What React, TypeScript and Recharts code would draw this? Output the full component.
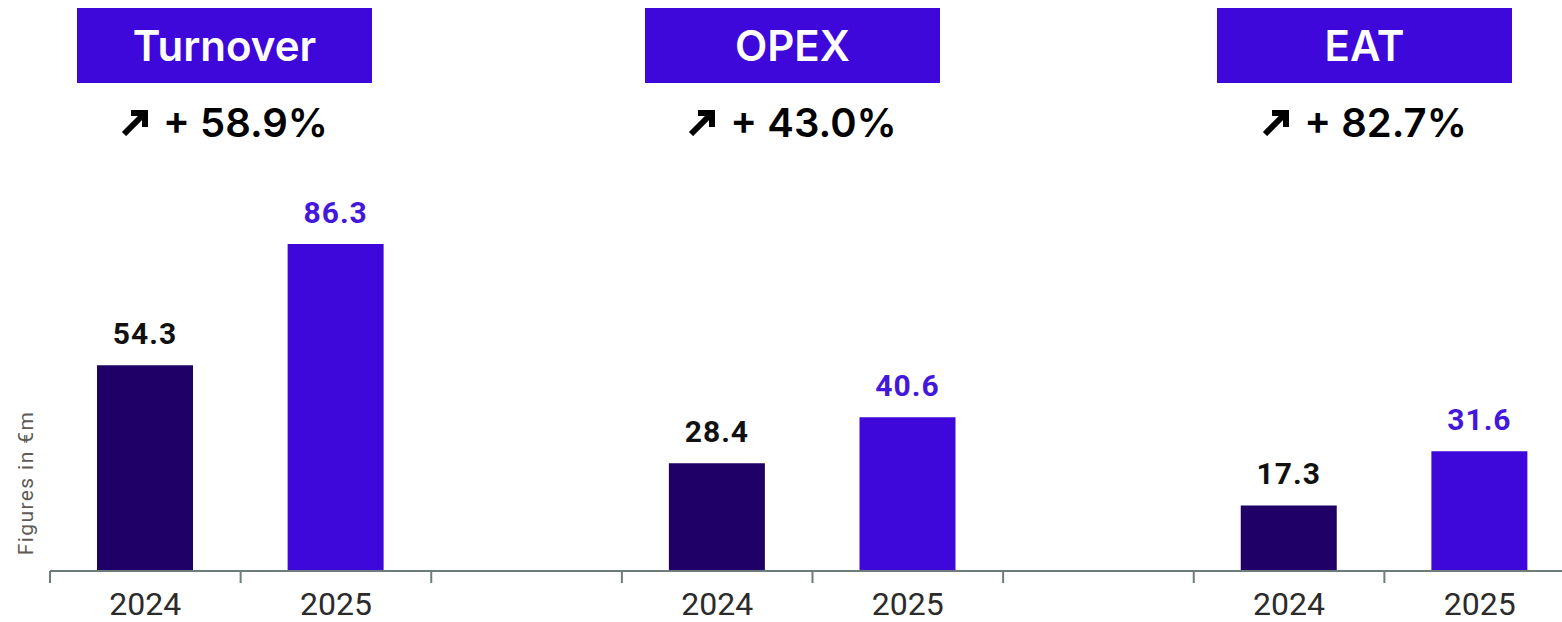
import { BarChart, Bar, XAxis, YAxis, LabelList } from 'recharts';

const metrics = ['Turnover', 'OPEX', 'EAT'];
const years = ['2024', '2025'];
const values2024 = [54.3, 28.4, 17.3];
const values2025 = [86.3, 40.6, 31.6];

const DARK = '#1e0066';
const PURPLE = '#3d08d9';
const AXIS = '#707b7b';

type Row = { key: string; year: string; v2024: number | null; v2025: number | null };

// 2024, 2025, then an empty spacer slot between metric groups
const rows: Row[] = [];
metrics.forEach((m, i) => {
  rows.push({ key: `${m}-${years[0]}`, year: years[0], v2024: values2024[i], v2025: null });
  rows.push({ key: `${m}-${years[1]}`, year: years[1], v2024: null, v2025: values2025[i] });
  if (i < metrics.length - 1) rows.push({ key: `gap-${i}`, year: '', v2024: null, v2025: null });
});

const changes = metrics.map((_, i) => ((values2025[i] / values2024[i] - 1) * 100).toFixed(1));

// header box centres (px)
const headerCenters = [224.5, 792.5, 1364.5];

function YearTick(props: any) {
  const { x, y, payload } = props;
  const half = payload?.offset ?? 95.3;
  const row = rows[payload.index];
  return (
    <g>
      <line x1={x - half} x2={x - half} y1={y - 8} y2={y + 4} stroke={AXIS} strokeWidth={2} />
      <text
        x={x}
        y={y + 36}
        textAnchor="middle"
        fill="#2b2b2b"
        fontSize={32}
        fontFamily="Roboto, sans-serif"
      >
        {row ? row.year : ''}
      </text>
    </g>
  );
}

const makeLabel = (color: string) =>
  function ValueLabel(props: any) {
    const { x, y, width, value } = props;
    if (value == null) return null;
    return (
      <text
        x={x + width / 2}
        y={y - 21}
        textAnchor="middle"
        fill={color}
        fontSize={30}
        fontWeight={700}
        letterSpacing={1}
        fontFamily="Roboto, sans-serif"
      >
        {Number(value).toFixed(1)}
      </text>
    );
  };

const Label2024 = makeLabel('#111');
const Label2025 = makeLabel('#4317dc');

function UnitLabel(props: any) {
  const { viewBox } = props;
  const cx = viewBox.x + 27;
  const cy = viewBox.y + viewBox.height - 88;
  return (
    <text
      x={cx}
      y={cy}
      transform={`rotate(-90 ${cx} ${cy})`}
      textAnchor="middle"
      dominantBaseline="middle"
      fill="#5e5a56"
      fontSize={21}
      letterSpacing={1.4}
      fontFamily="Roboto, sans-serif"
    >
      Figures in €m
    </text>
  );
}

function Arrow() {
  return (
    <svg width={28} height={28} viewBox="0 0 28 28" style={{ marginRight: 14 }}>
      <path d="M3 26 L23 6" stroke="#000" strokeWidth={6} fill="none" />
      <path d="M10 5 H24 V19" stroke="#000" strokeWidth={6} fill="none" strokeLinejoin="miter" />
    </svg>
  );
}

export default function App() {
  return (
    <div
      style={{
        position: 'absolute',
        left: 0,
        top: 0,
        width: 1562,
        height: 622,
        overflow: 'hidden',
        background: '#fff',
        fontFamily: 'Inter, Roboto, sans-serif',
      }}
    >
      {metrics.map((m, i) => (
        <div key={m}>
          <div
            style={{
              position: 'absolute',
              left: headerCenters[i] - 147.5,
              top: 8,
              width: 295,
              height: 75,
              background: PURPLE,
              color: '#fff',
              fontSize: 42,
              fontWeight: 600,
              display: 'flex',
              alignItems: 'center',
              justifyContent: 'center',
            }}
          >
            {m}
          </div>
          <div
            style={{
              position: 'absolute',
              left: headerCenters[i] - 150,
              top: 96,
              width: 300,
              height: 52,
              display: 'flex',
              alignItems: 'center',
              justifyContent: 'center',
              fontSize: 40,
              fontWeight: 600,
              color: '#000',
            }}
          >
            <Arrow />
            <span>+ {changes[i]}%</span>
          </div>
        </div>
      ))}
      <div style={{ position: 'absolute', left: 0, top: 0 }}>
        <BarChart
          width={1580}
          height={622}
          data={rows}
          margin={{ top: 192, right: 5, left: 0, bottom: 0 }}
        >
          <YAxis
            width={50}
            domain={[0, 100]}
            tick={false}
            axisLine={false}
            tickLine={false}
            label={<UnitLabel />}
          />
          <XAxis
            dataKey="key"
            height={51}
            interval={0}
            axisLine={{ stroke: AXIS, strokeWidth: 2 }}
            tickLine={false}
            tick={<YearTick />}
          />
          <Bar dataKey="v2024" stackId="y" fill={DARK} barSize={96} isAnimationActive={false}>
            <LabelList dataKey="v2024" content={<Label2024 />} />
          </Bar>
          <Bar dataKey="v2025" stackId="y" fill={PURPLE} barSize={96} isAnimationActive={false}>
            <LabelList dataKey="v2025" content={<Label2025 />} />
          </Bar>
        </BarChart>
      </div>
    </div>
  );
}
